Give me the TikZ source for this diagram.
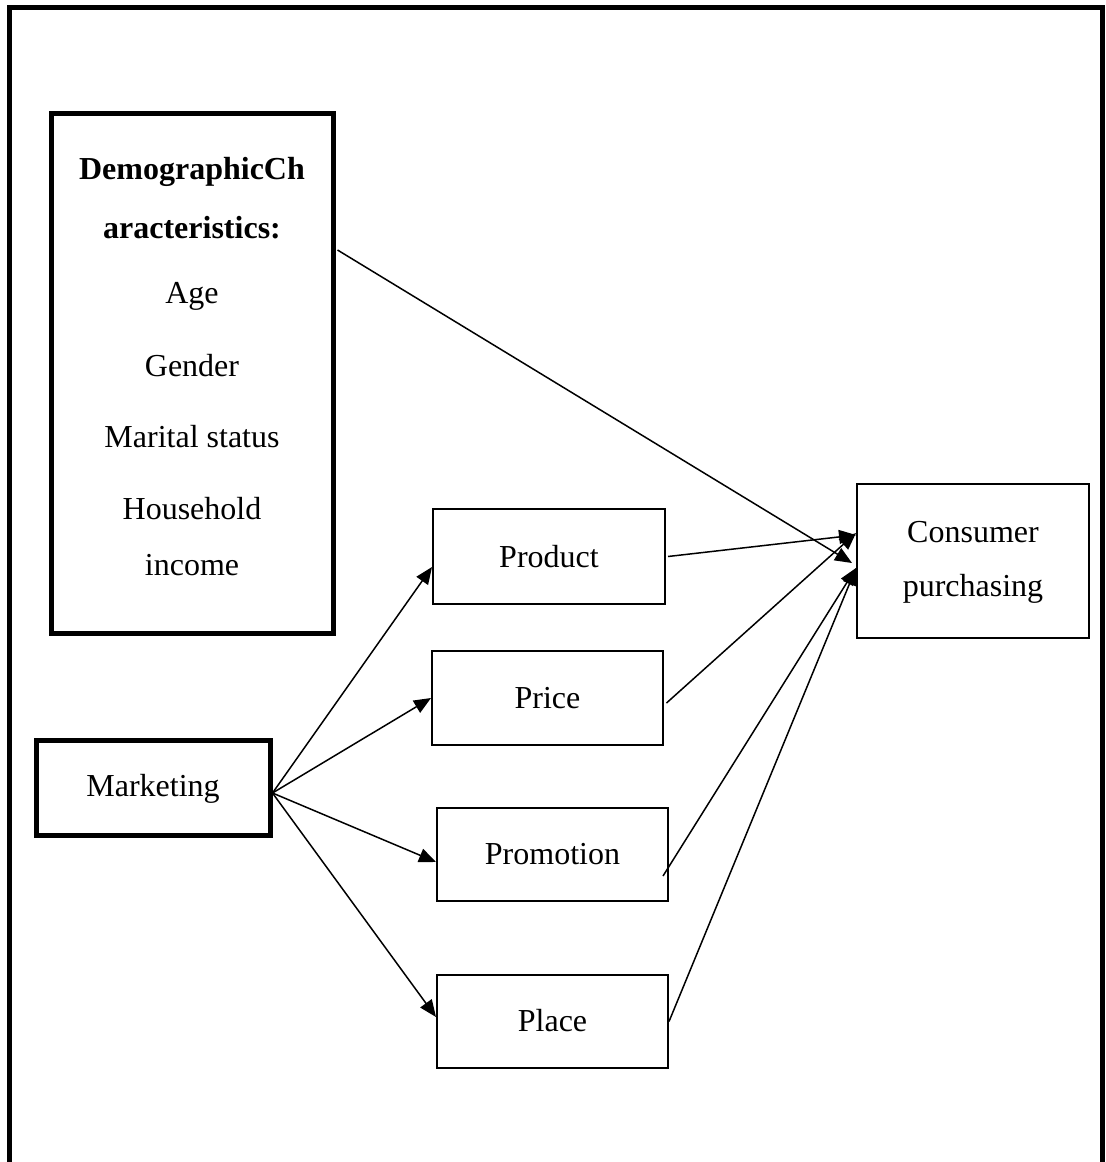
\documentclass[tikz,border=0pt]{standalone}
\usepackage{fontspec}
\setmainfont{Liberation Serif}
\usetikzlibrary{arrows.meta}
\begin{document}
\begin{tikzpicture}[x=0.5pt,y=-0.5pt,
  thinbox/.style={draw,line width=1pt,inner sep=0pt},
  txt/.style={font=\fontsize{16}{19}\selectfont,inner sep=0pt},
  btxt/.style={font=\fontsize{16}{19}\selectfont\bfseries,inner sep=0pt},
  conn/.style={line width=0.75pt,-{Triangle[length=8.5pt,width=7pt]}}]
\useasboundingbox (0,0) rectangle (1105,1162);
% outer frame
\draw[line width=2.5pt] (9.5,1170) -- (9.5,7.5) -- (1102,7.5) -- (1102,1170);
% boxes
\node[draw,line width=2.5pt,minimum width=141pt,minimum height=260pt] (demo) at (192,373) {};
\node[draw,line width=2.5pt,minimum width=117pt,minimum height=47.5pt] (mkt) at (153,787.5) {};
\node[thinbox,minimum width=116pt,minimum height=47.5pt] (prod) at (549,556.5) {};
\node[thinbox,minimum width=115.5pt,minimum height=47pt] (price) at (547.5,698) {};
\node[thinbox,minimum width=115.5pt,minimum height=46.5pt] (promo) at (552.5,854.5) {};
\node[thinbox,minimum width=115.5pt,minimum height=46.5pt] (place) at (552.5,1021.5) {};
\node[thinbox,minimum width=116pt,minimum height=77pt] (cons) at (973,561) {};
% texts
\node[btxt] (d1) at (192,172) {DemographicCh};
\node[btxt] (d2) at (192,228) {aracteristics:};
\node[txt] (d3) at (192,296) {Age};
\node[txt] (d4) at (192,366) {Gender};
\node[txt] (d5) at (192,437) {Marital status};
\node[txt] (d6) at (192,509) {Household};
\node[txt] (d7) at (192,565) {income};
\node[txt] (t1) at (153,789) {Marketing};
\node[txt] (t2) at (549,557) {Product};
\node[txt] (t3) at (547.5,698) {Price};
\node[txt] (t4) at (552.5,854) {Promotion};
\node[txt] (t5) at (552.5,1021) {Place};
\node[txt] (c1) at (973,532) {Consumer};
\node[txt] (c2) at (973,589) {purchasing};
\begin{scope}
\clip (860,600) rectangle (1086,631);
\node[txt] (c3) at (973,645) {decision};
\end{scope}
% connectors
\draw[conn] ([xshift=1pt,yshift=61.5pt]demo.east) -- ([xshift=-2pt,yshift=-1pt]cons.west);
\draw[conn] ([xshift=1pt]prod.east) -- ([yshift=13pt]cons.west);
\draw[conn] ([xshift=1.25pt,yshift=-2.5pt]price.east) -- ([yshift=14pt]cons.west);
\draw[conn] ([xshift=-3pt,yshift=-10.75pt]promo.east) -- ([yshift=-3.5pt]cons.west);
\draw[conn] (place.east) -- ([yshift=-3.5pt]cons.west);
\draw[conn] ([yshift=-2.75pt]mkt.east) -- ([yshift=-5.25pt]prod.west);
\draw[conn] ([yshift=-2.75pt]mkt.east) -- (price.west);
\draw[conn] ([yshift=-2.75pt]mkt.east) -- ([yshift=-3.75pt]promo.west);
\draw[conn] ([yshift=-2.75pt]mkt.east) -- ([yshift=2.25pt]place.west);
\end{tikzpicture}
\end{document}
